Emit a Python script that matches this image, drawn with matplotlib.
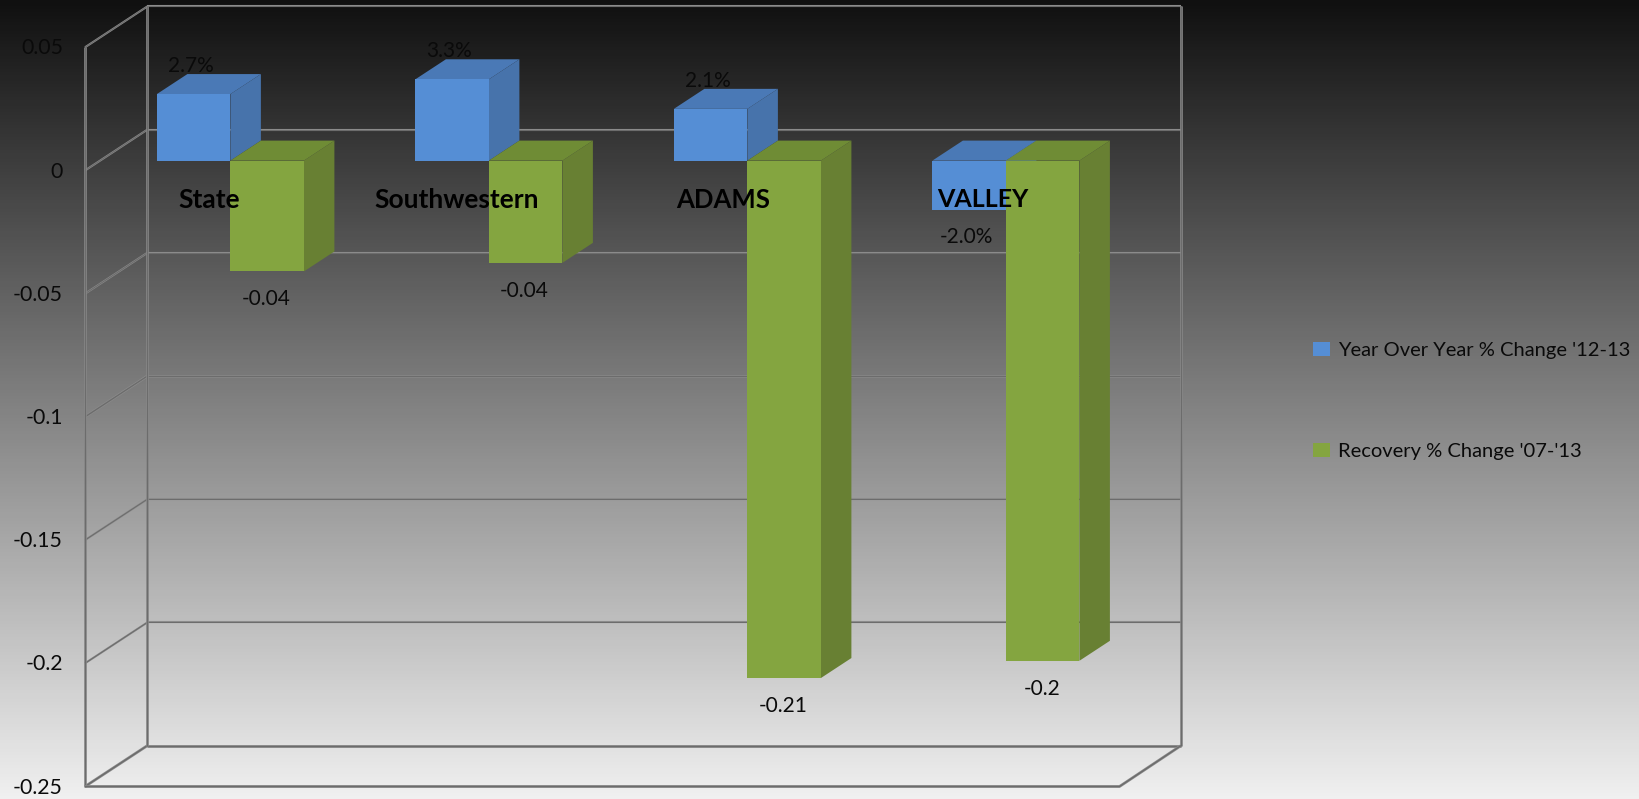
import numpy as np
import matplotlib
matplotlib.use('Agg')
import matplotlib.pyplot as plt
from matplotlib.colors import LinearSegmentedColormap
from matplotlib.patches import Polygon

plt.rcParams['font.family'] = ['Lato', 'DejaVu Sans']

categories = ['State', 'Southwestern', 'ADAMS', 'VALLEY']
yoy_change = [0.027, 0.033, 0.021, -0.02]
recovery_change = [-0.045, -0.0415, -0.21, -0.203]
yoy_labels = ['2.7%', '3.3%', '2.1%', '-2.0%']
recovery_labels = ['-0.04', '-0.04', '-0.21', '-0.2']
y_ticks = [0.05, 0, -0.05, -0.1, -0.15, -0.2, -0.25]
y_tick_labels = ['0.05', '0', '-0.05', '-0.1', '-0.15', '-0.2', '-0.25']
yoy_name = "Year Over Year % Change '12-13"
recovery_name = "Recovery % Change '07-'13"

W, H = 1639, 799
GROUP_PX = 258.5      # px between categories
VALUE_PX = 2464.0     # px per 1.0 of value
X0_PX = 230.4         # px of category 0 (where its two bars meet)
Y0_PX = 160.6         # px of value 0 on the bars' front face


def xd(px):
    return (px - X0_PX) / GROUP_PX


def yd(px):
    return (Y0_PX - px) / VALUE_PX


fig = plt.figure(figsize=(W / 100, H / 100), dpi=100)

# background gradient
bg = fig.add_axes([0, 0, 1, 1], zorder=0)
bg.axis('off')
cmap = LinearSegmentedColormap.from_list('bg', ['#101010', '#f0f0f0'])
bg.imshow(np.linspace(0, 1, 256).reshape(-1, 1), cmap=cmap, aspect='auto', vmin=0, vmax=1)

ax = fig.add_axes([0, 0, 1, 1], zorder=1)
ax.patch.set_alpha(0)
ax.axis('off')
ax.set_xlim(xd(0), xd(W))
ax.set_ylim(yd(H), yd(0))


def wall_line(xs, ys, lw):
    # light edge plus darker core, otherwise it vanishes in the mid grey of the gradient
    ax.plot(xs, ys, color='#8c8c8c', lw=lw, zorder=1, solid_capstyle='butt')
    ax.plot(xs, ys, color='#6c6c6c', lw=lw * 0.5, zorder=1, solid_capstyle='butt')


# walls and floor
front_off = yd(170.5)
back_off = yd(129.6)
left_front, left_back = xd(85), xd(147.4)
right_back, right_front = xd(1181), xd(1119.5)
for v in y_ticks:
    lw = 2.0 if v in (-0.1, y_ticks[-1]) else 1.5
    wall_line([left_front, left_back], [v + front_off, v + back_off], lw)
    wall_line([left_back, right_back], [v + back_off, v + back_off], lw)
bottom, top = y_ticks[-1], y_ticks[0]
wall_line([left_front, left_front], [bottom + front_off, top + front_off], 1.9)
wall_line([left_back, left_back], [bottom + back_off, top + back_off], 1.9)
wall_line([right_back, right_back], [bottom + back_off, top + back_off], 1.9)
wall_line([left_front, right_front, right_back],
          [bottom + front_off, bottom + front_off, bottom + back_off], 2.0)

for v, lab in zip(y_ticks, y_tick_labels):
    ax.annotate(lab, (left_front, v + front_off), xytext=(-22, -1), textcoords='offset pixels',
                ha='right', va='center', fontsize=15.3, color='#0a0a0a', annotation_clip=False)

# 3d looking bars
bar_w = 73.5 / GROUP_PX
dx = 30.5 / GROUP_PX
dy = 20.0 / VALUE_PX
x_pos = np.arange(len(categories))


def draw_bars(xs, vals, front, side, topc, z, name):
    ax.bar(xs, vals, width=bar_w, align='edge', color=front, zorder=z + 2, label=name)
    for x, v in zip(xs, vals):
        hi = max(v, 0)
        lo = min(v, 0)
        ax.add_patch(Polygon([(x + bar_w, lo), (x + bar_w + dx, lo + dy),
                              (x + bar_w + dx, hi + dy), (x + bar_w, hi)],
                             facecolor=side, edgecolor='none', zorder=z + 1))
        ax.add_patch(Polygon([(x, hi), (x + dx, hi + dy),
                              (x + bar_w + dx, hi + dy), (x + bar_w, hi)],
                             facecolor=topc, edgecolor='none', zorder=z + 1))


draw_bars(x_pos - bar_w, yoy_change, '#558ed5', '#4773ab', '#4a79b6', 2, yoy_name)
draw_bars(x_pos, recovery_change, '#84a540', '#688033', '#6f8c35', 5, recovery_name)

# data labels
for x, v, lab in zip(x_pos - bar_w / 2, yoy_change, yoy_labels):
    off = 28 if v > 0 else -27
    ax.annotate(lab, (x, v), xytext=(-3, off), textcoords='offset pixels', ha='center', va='center',
                fontsize=15, color='#0a0a0a', zorder=10)
for x, v, lab in zip(x_pos + bar_w / 2, recovery_change, recovery_labels):
    ax.annotate(lab, (x, v), xytext=(-1, -28), textcoords='offset pixels', ha='center', va='center',
                fontsize=15, color='#0a0a0a', zorder=10)

# category names sit just under the zero line
name_shift = [-21, -32, -24, -23]
name_size = [19, 19, 18.5, 18]
for x, name, s, fs in zip(x_pos, categories, name_shift, name_size):
    ax.annotate(name, (x, 0), xytext=(s, -39), textcoords='offset pixels', ha='center', va='center',
                fontsize=fs, fontweight='bold', color='black', zorder=11)

leg = ax.legend(loc='center left', bbox_to_anchor=(1313 / W, 1 - 401 / H), bbox_transform=fig.transFigure,
                frameon=False, fontsize=14.5, labelspacing=4.2, handlelength=0.85, handleheight=0.7,
                handletextpad=0.4, borderpad=0, borderaxespad=0)
for t in leg.get_texts():
    t.set_color('#0a0a0a')

fig.savefig('out.png', dpi=100)
